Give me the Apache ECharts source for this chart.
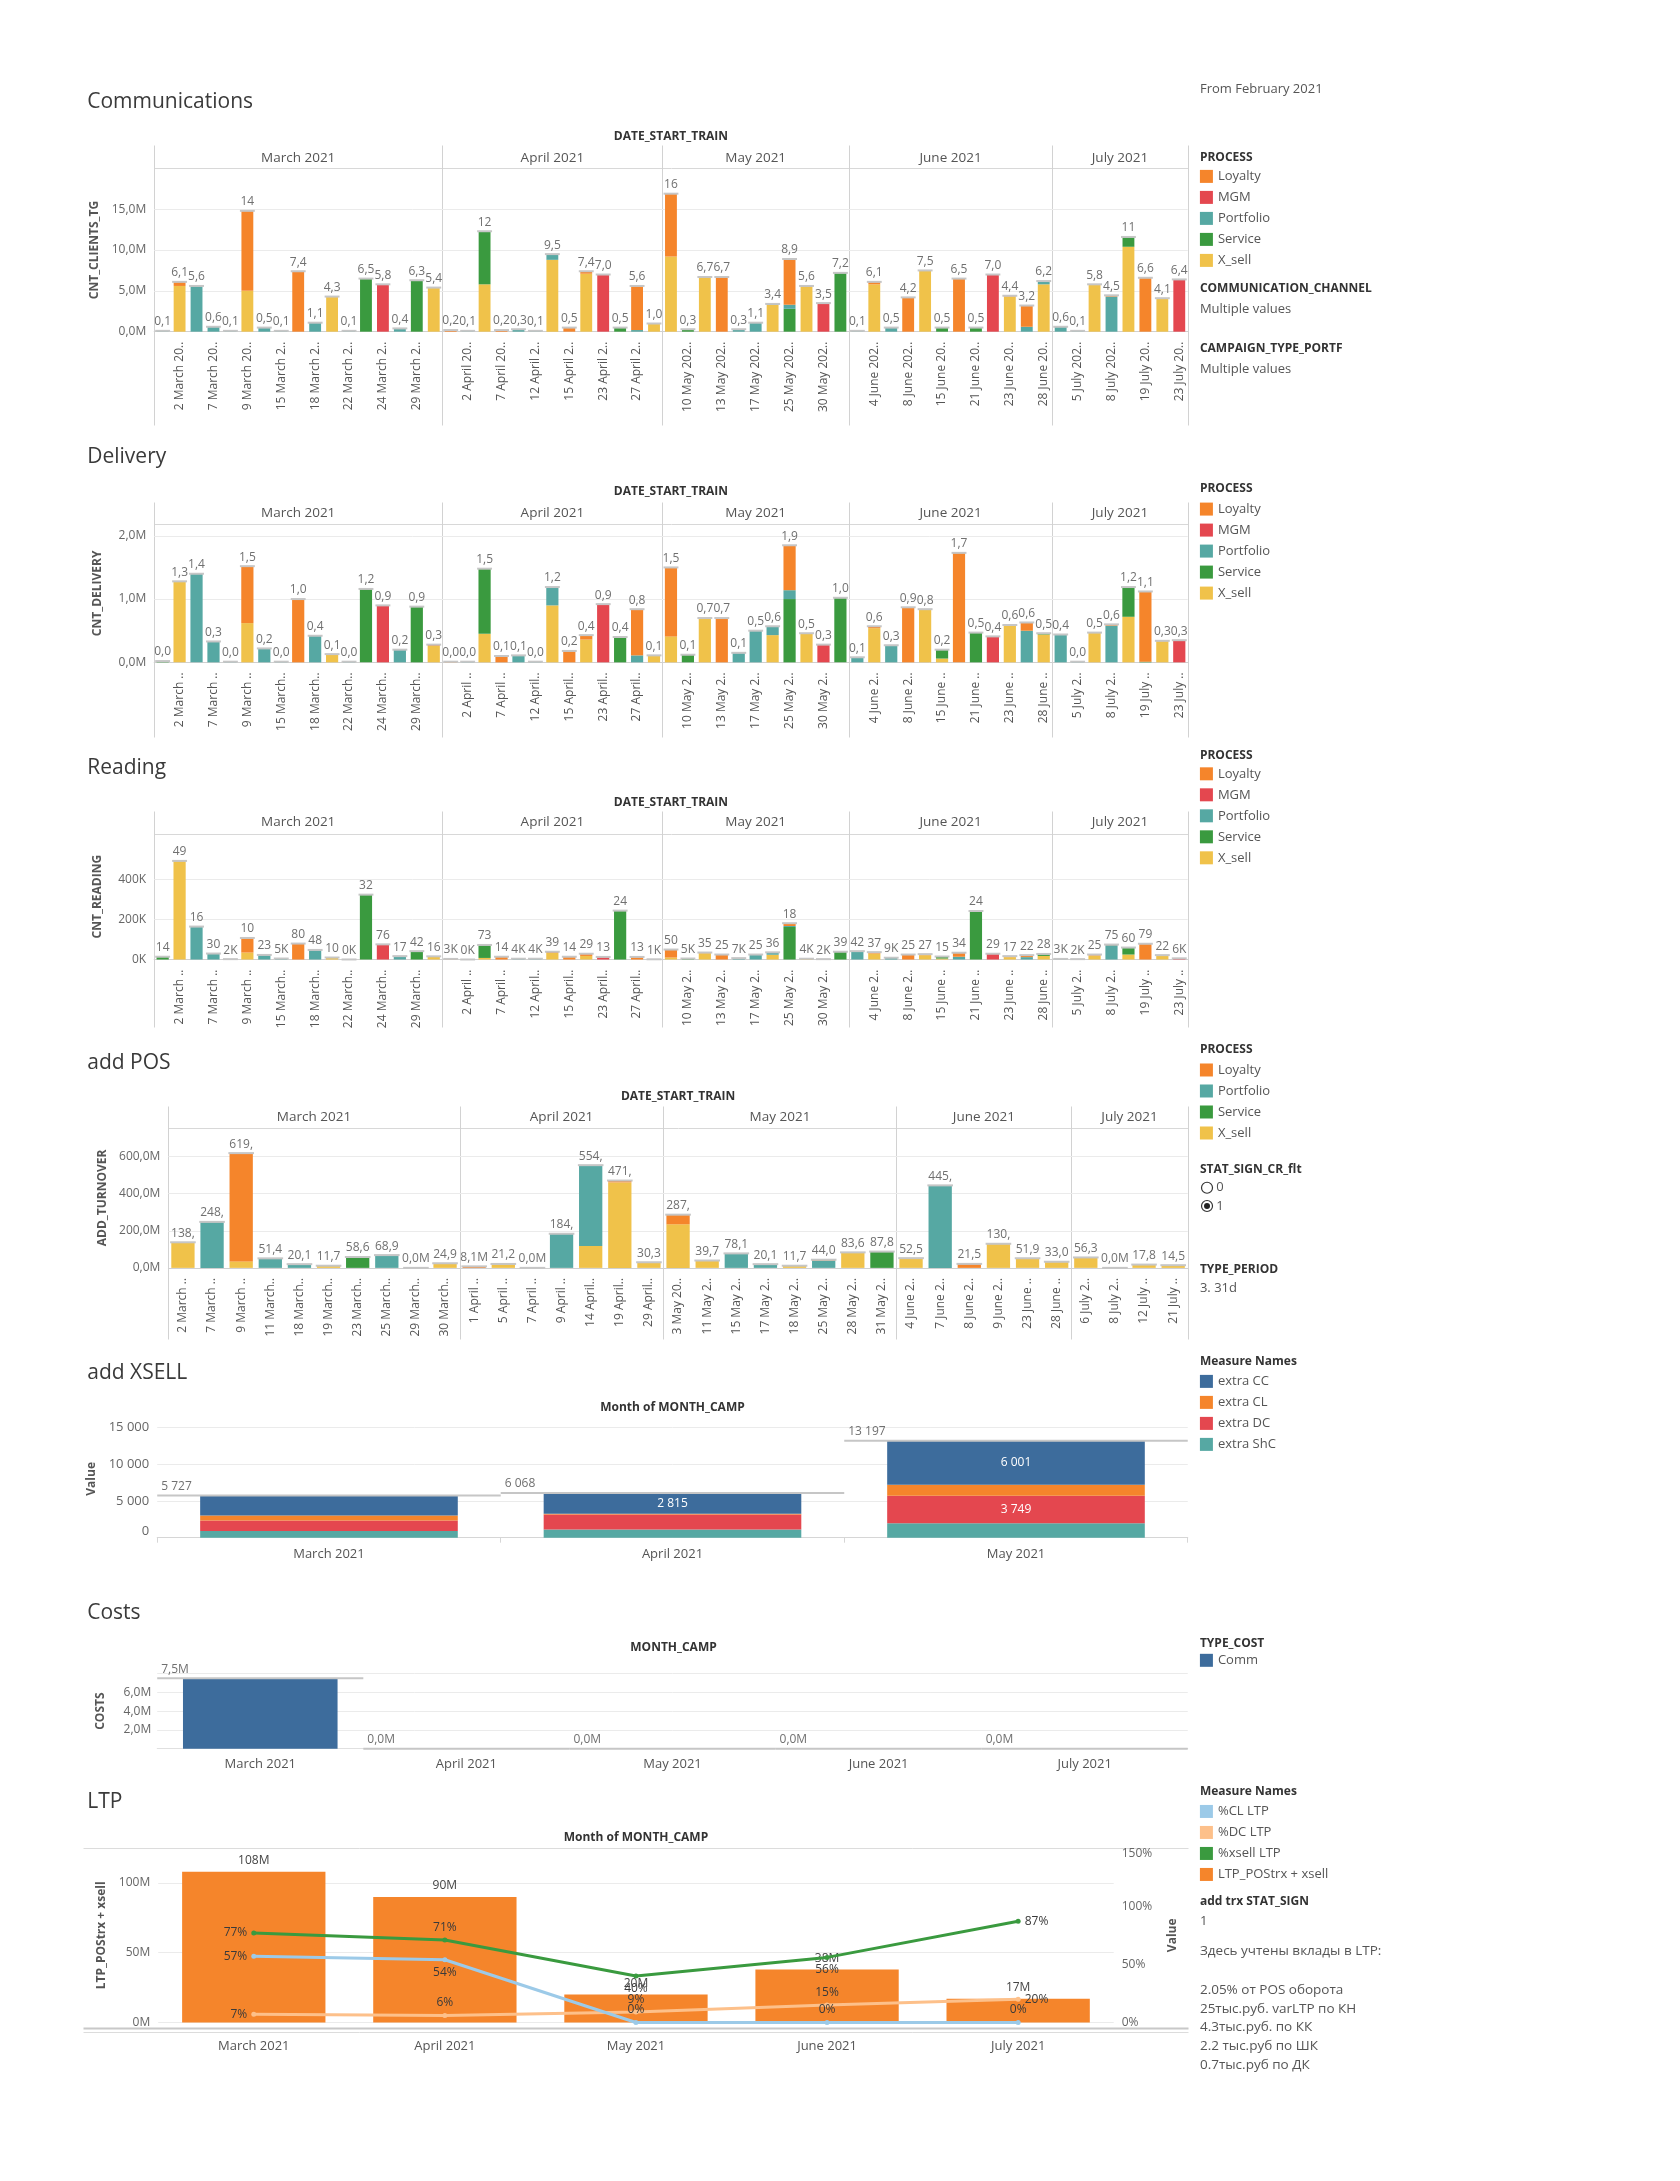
<!DOCTYPE html>
<html><head><meta charset="utf-8">
<script src="https://cdn.jsdelivr.net/npm/echarts@6/dist/echarts.min.js"></script>
<style>html,body{margin:0;padding:0;background:#fff}#c{width:1680px;height:2181px}</style>
</head><body><div id="c"></div>
<script>
// ---------------- DATA ----------------
const PROCESS_LEGEND = ['Loyalty','MGM','Portfolio','Service','X_sell'];
const DATES = [
 '1 March 2021','2 March 2021','4 March 2021','7 March 2021','8 March 2021','9 March 2021','11 March 2021','15 March 2021','16 March 2021','18 March 2021','19 March 2021','22 March 2021','23 March 2021','24 March 2021','25 March 2021','29 March 2021','30 March 2021',
 '1 April 2021','2 April 2021','5 April 2021','7 April 2021','9 April 2021','12 April 2021','14 April 2021','15 April 2021','19 April 2021','23 April 2021','26 April 2021','27 April 2021','29 April 2021',
 '3 May 2021','10 May 2021','11 May 2021','13 May 2021','15 May 2021','17 May 2021','18 May 2021','25 May 2021','28 May 2021','30 May 2021','31 May 2021',
 '1 June 2021','4 June 2021','7 June 2021','8 June 2021','9 June 2021','15 June 2021','18 June 2021','21 June 2021','22 June 2021','23 June 2021','25 June 2021','28 June 2021',
 '2 July 2021','5 July 2021','6 July 2021','8 July 2021','12 July 2021','19 July 2021','21 July 2021','23 July 2021'];

// Communications, CNT_CLIENTS_TG (millions)
const COMM_LOYALTY = [0,0.5,0,0,0,9.8,0,0,7.4,0,0,0,0,0,0,0,0, 0.2,0,0,0.2,0,0,0,0.5,0.3,0,0,5.4,0, 7.7,0,0,6.7,0,0,0,5.6,0.1,0,0, 0,0.3,0,4.2,0,0,6.5,0,0,0.1,2.6,0, 0,0,0,0.15,0,6.6,0.1,0];
const COMM_MGM     = [0,0,0,0,0,0,0,0,0,0,0,0,0,5.8,0,0,0, 0,0,0,0,0,0,0,0,0,7.0,0,0,0, 0,0,0,0,0,0,0,0,0,3.5,0, 0,0,0,0,0,0,0,0,7.0,0,0,0, 0,0,0,0,0,0,0,6.4];
const COMM_PORTF   = [0.1,0,5.6,0.6,0.1,0,0.5,0.1,0,1.1,0,0.1,0,0,0.4,0,0, 0,0.1,0,0,0.3,0.1,0.7,0,0,0,0,0.2,0, 0,0,0,0,0.3,1.1,0.1,0.5,0,0,0, 0.1,0,0.5,0,0,0,0,0,0,0,0.6,0.4, 0.6,0.1,0,4.3,0,0,0,0];
const COMM_SERVICE = [0,0,0,0,0,0,0,0,0,0,0,0,6.5,0,0,6.3,0, 0,0,6.5,0,0,0,0,0,0,0,0.5,0,0, 0,0.3,0,0,0,0,0,2.8,0,0,7.2, 0,0,0,0,0,0.5,0,0.5,0,0,0,0, 0,0,0,0,1.2,0,0,0];
const COMM_XSELL   = [0,5.6,0,0,0,5.0,0,0,0,0,4.3,0,0,0,0,0,5.4, 0,0,5.8,0,0,0,8.8,0,7.1,0,0,0,1.0, 9.2,0,6.7,0,0,0,3.3,0,5.5,0,0, 0,5.8,0,0,7.5,0,0,0,0,4.3,0,5.8, 0,0,5.8,0,10.4,0,4.0,0];

// Delivery, CNT_DELIVERY (millions)
const DEL_LOYALTY = [0,0,0,0,0,0.9,0,0,1.0,0,0,0,0,0,0,0,0.02, 0.01,0,0,0.1,0,0,0,0.18,0.07,0,0,0.73,0.01, 1.09,0,0,0.7,0,0,0,0.71,0,0,0, 0,0.03,0,0.87,0,0,1.73,0,0,0,0.13,0, 0,0,0,0.02,0,1.11,0,0];
const DEL_MGM     = [0,0,0,0,0,0,0,0,0,0,0,0,0,0.9,0,0,0, 0,0,0,0,0,0,0,0,0,0.92,0,0,0, 0,0,0,0,0,0,0,0,0,0.28,0, 0,0,0,0,0,0,0,0,0.41,0,0,0, 0,0,0,0,0,0,0,0.35];
const DEL_PORTF   = [0,0,1.4,0.33,0.01,0,0.22,0.01,0,0.42,0,0.01,0,0,0.2,0,0, 0,0.01,0,0,0.11,0.01,0.29,0,0,0,0,0.11,0, 0,0,0,0,0.15,0.5,0.14,0.14,0,0,0, 0.08,0,0.27,0,0,0,0,0,0,0,0.5,0, 0.44,0.01,0,0.58,0,0,0,0];
const DEL_SERVICE = [0.02,0,0,0,0,0,0,0,0,0,0,0,1.16,0,0,0.88,0, 0,0,1.03,0,0,0,0,0,0,0,0.4,0,0, 0,0.12,0,0,0,0,0,1.0,0,0,1.02, 0,0,0,0,0,0.14,0,0.47,0,0,0,0.02, 0,0,0,0,0.47,0.01,0,0];
const DEL_XSELL   = [0,1.28,0,0,0,0.62,0,0,0,0,0.13,0,0,0,0,0,0.26, 0,0,0.45,0,0,0,0.9,0,0.36,0,0,0,0.1, 0.41,0,0.7,0,0,0,0.43,0,0.46,0,0, 0,0.54,0,0,0.84,0.06,0,0,0,0.59,0,0.44, 0,0,0.47,0,0.72,0,0.34,0];

// Reading, CNT_READING (thousands)
const READ_LOYALTY = [0,0,0,0,0,73,0,0,80,0,2,0,0,0,0,0,0, 3,0,0,14,0,0,6,14,11,0,0,13,0, 40,0,3,25,0,0,0,14,0,0,0, 0,7,0,25,5,0,20,0,0,5,10,0, 0,0,5,3,0,79,2,0];
const READ_MGM     = [0,0,0,0,0,0,0,0,0,0,0,0,0,76,0,0,0, 0,0,0,0,0,0,0,0,0,13,0,0,0, 0,0,0,0,0,0,0,0,0,2,0, 0,0,0,0,0,0,0,0,29,0,0,0, 0,0,0,0,0,0,0,6];
const READ_PORTF   = [0,0,165,30,2,0,23,5,0,48,0,0.4,0,0,17,0,0, 0,0.3,0,0,4,4,0,0,0,0,0,0,0, 0,0,0,0,7,25,12,5,0,0,0, 42,0,9,0,0,0,14,0,0,0,12,0, 3,2,0,72,0,0,0,0];
const READ_SERVICE = [14,0,0,0,0,0,0,0,0,0,0,0,325,0,0,42,0, 0,0,65,0,0,0,0,0,0,0,245,0,0, 0,5,0,0,0,0,0,163,0,0,39, 0,0,0,0,0,10,0,243,0,0,0,10, 0,0,0,0,35,0,0,0];
const READ_XSELL   = [0,494,0,0,0,35,0,0,0,0,8,0,0,0,0,0,16, 0,0,8,0,0,0,33,0,18,0,0,0,1.2, 10,0,32,0,0,0,24,0,4,0,0, 0,30,0,0,22,5,0,0,0,12,0,18, 0,0,20,0,25,0,20,0];

// add POS, ADD_TURNOVER (millions)
const POS_DATES = ['2 March 2021','7 March 2021','9 March 2021','11 March 2021','18 March 2021','19 March 2021','23 March 2021','25 March 2021','29 March 2021','30 March 2021',
 '1 April 2021','5 April 2021','7 April 2021','9 April 2021','14 April 2021','19 April 2021','29 April 2021',
 '3 May 2021','11 May 2021','15 May 2021','17 May 2021','18 May 2021','25 May 2021','28 May 2021','31 May 2021',
 '4 June 2021','7 June 2021','8 June 2021','9 June 2021','23 June 2021','28 June 2021',
 '6 July 2021','8 July 2021','12 July 2021','21 July 2021'];
const POS_LOYALTY = [0,0,584,0,0,0,0,0,0,0, 8.1,0,0.03,0,0,10,0, 52,0,0,0,0,4,0,0, 0,0,21.5,0,0,0, 0,0,0,0];
const POS_PORTF   = [0,248,0,51.4,20.1,0,0,68.9,0,0, 0,0,0,184,436,0,0, 0,0,78.1,20.1,0,40,0,0, 0,445,0,0,0,0, 0,0,0,0];
const POS_SERVICE = [0,0,0,0,0,0,58.6,0,0,0, 0,0,0,0,0,0,0, 0,0,0,0,0,0,0,87.8, 0,0,0,0,0,0, 0,0,0,0];
const POS_XSELL   = [138,0,35,0,0,11.7,0,0,0.03,24.9, 0,21.2,0,0,118,461,30.3, 235,39.7,0,0,11.7,0,83.6,0, 52.5,0,0,130,51.9,33.0, 56.3,0.03,17.8,14.5];

// add XSELL
const XSELL_MONTHS = ['March 2021','April 2021','May 2021'];
const EXTRA_CC  = [2727, 2815, 6001];
const EXTRA_CL  = [650, 103, 1497];
const EXTRA_DC  = [1450, 2050, 3749];
const EXTRA_SHC = [900, 1100, 1950];

// Costs (millions)
const COST_MONTHS = ['March 2021','April 2021','May 2021','June 2021','July 2021'];
const COSTS_COMM = [7.5, 0, 0, 0, 0];

// LTP
const LTP_MONTHS = ['March 2021','April 2021','May 2021','June 2021','July 2021'];
const LTP_POSTRX_XSELL = [108, 90, 20, 38, 17];   // millions
const PCT_CL_LTP    = [57, 54, 0, 0, 0];
const PCT_DC_LTP    = [7, 6, 9, 15, 20];
const PCT_XSELL_LTP = [77, 71, 40, 56, 87];
const LTP_NOTES = ['2.05% от POS оборота','25тыс.руб. varLTP по КН','4.3тыс.руб. по КК','2.2 тыс.руб по ШК','0.7тыс.руб по ДК'];

// ---------------- STYLE / BUILD ----------------
const K = 1.0143;                 // layout scale
const S = v => v*K;
const FONT = '"Open Sans","DejaVu Sans",sans-serif';
const COLORS = {Loyalty:'#F5852B', MGM:'#E4474F', Portfolio:'#56A8A3', Service:'#3A9A3F', X_sell:'#F0C24A'};
const STACK_ORDER = ['X_sell','Service','Portfolio','MGM','Loyalty'];
// label placement (style only)
const LBL_POS_XSELL = ['left','top','bottom','bottom','right'];
const LBL_POS_CL    = ['left','bottom','top','top','top'];
const LBL_POS_DC    = ['left','top','top','top','right'];

const grids=[], xAxes=[], yAxes=[], series=[], graphics=[], legends=[];
const comma = (v,d)=> v.toFixed(d).replace('.',',');
const spaced = v => String(Math.round(v)).replace(/\B(?=(\d{3})+(?!\d))/g,' ');
const TITLE_C='#333', SUB_C='#555';

function gText(x,y,t,o={}){
  graphics.push({type:'text', x:S(x), y:S(y), silent:true, rotation:o.rot||0,
    style:{text:t, fill:o.color||SUB_C, font:(o.weight||'normal')+' '+(o.size||13)+'px '+FONT,
      align:o.align||'left', verticalAlign:o.va||'middle'}});
}
function gLine(x1,y1,x2,y2,o={}){
  graphics.push({type:'line', silent:true, shape:{x1:Math.round(S(x1))+0.5,y1:Math.round(S(y1))+0.5,x2:Math.round(S(x2))+0.5,y2:Math.round(S(y2))+0.5},
    style:{stroke:o.color||'#d6d6d6', lineWidth:o.w||1}});
}
function isMult(v,step){ return Math.abs(v/step - Math.round(v/step)) < 1e-6; }

function refSeries(xi, yi, totals, fmt, mode){
  return {type:'custom', xAxisIndex:xi, yAxisIndex:yi, silent:true, z:6,
    data: totals.map((v,i)=>[i,v]), encode:{x:0,y:1},
    renderItem:(params, api)=>{
      const v = api.value(1);
      const p = api.coord([api.value(0), v]);
      const bw = api.size([1,0])[0];
      const half = mode==='slot' ? bw/2 : bw*0.44;
      return {type:'group', children:[
        {type:'line', shape:{x1:p[0]-half, y1:p[1], x2:p[0]+half, y2:p[1]}, style:{stroke:'#c6c6c6', lineWidth:2}},
        {type:'text', x: mode==='slot' ? p[0]-half+4 : p[0], y:p[1]-3,
          style:{text:fmt(v), align: mode==='slot'?'left':'center', verticalAlign:'bottom', fill:'#707070', font:'12px '+FONT}}
      ]};
    }};
}

function legendBlock(top, names){
  legends.push({orient:'vertical', left:S(1183), top:S(top), itemWidth:13, itemHeight:13, itemGap:8, icon:'rect',
    selectedMode:false, data:names, textStyle:{fontSize:13, color:SUB_C, fontFamily:FONT}, padding:0});
}
function legendTitle(y,t){ gText(1183, y, t, {size:12, weight:'bold', color:TITLE_C}); }

function dateChart(c){
  const gi = grids.length, N = c.dates.length, W = c.right - c.left;
  grids.push({left:S(c.left), top:S(c.top), width:S(W), height:S(c.zero-c.top)});
  const months = c.dates.map(d=>d.split(' ')[1]+' '+d.split(' ')[2]);
  const pos=[]; let k=0;
  months.forEach((m,i)=>{ if(i>0 && m!==months[i-1]) k=0; pos.push(k); k++; });
  xAxes.push({type:'category', gridIndex:gi, data:c.dates, axisTick:{show:false},
    axisLine:{lineStyle:{color:'#d0d0d0'}},
    axisLabel:{rotate:90, fontSize:12, color:SUB_C, fontFamily:FONT, margin:10,
      interval: c.allLabels ? 0 : (i)=>pos[i]%2===1,
      formatter: v => v.length>c.cut ? v.slice(0,c.cut)+'..' : v}});
  const nT = Math.floor(c.max/c.interval+1e-9)+1 + (isMult(c.max,c.interval)?0:1);
  const lineColors = [];
  for(let i=0;i<nT;i++){ lineColors.push(i*c.interval<=c.labelMax ? '#ebebeb' : 'rgba(0,0,0,0)'); }
  yAxes.push({type:'value', gridIndex:gi, min:0, max:c.max, interval:c.interval,
    axisLine:{show:false}, axisTick:{show:false}, splitLine:{lineStyle:{color:lineColors}},
    axisLabel:{fontSize:12, color:'#666', fontFamily:FONT, margin:8,
      formatter: v => (isMult(v,c.interval) && v<=c.labelMax) ? c.yfmt(v) : ''},
    name:c.yName, nameLocation:'middle', nameGap:S(c.nameGap),
    nameTextStyle:{fontSize:12, fontWeight:'bold', color:SUB_C, fontFamily:FONT}});
  const xi = xAxes.length-1, yi = yAxes.length-1;
  STACK_ORDER.forEach(p=>{
    if(!c.values[p]) return;
    series.push({type:'bar', name:p, xAxisIndex:xi, yAxisIndex:yi, stack:'st'+gi, data:c.values[p],
      barWidth:c.barWidth, itemStyle:{color:COLORS[p]}, emphasis:{disabled:true}});
  });
  const totals = c.dates.map((_,i)=>STACK_ORDER.reduce((s,p)=>s+(c.values[p]?c.values[p][i]:0),0));
  series.push(refSeries(xi, yi, totals, c.lbl, 'bar'));
  // header graphics
  gText(86, c.titleY, c.title, {size:21, color:'#3a3a3a'});
  gText((c.left+c.right)/2, c.dstY, 'DATE_START_TRAIN', {size:12, weight:'bold', color:TITLE_C, align:'center'});
  gLine(c.left, c.top, c.right, c.top, {color:'#d8d8d8'});
  const bounds=[0];
  months.forEach((m,i)=>{ if(i>0 && m!==months[i-1]) bounds.push(i); });
  bounds.push(N);
  const bx = b => c.left + W*b/N;
  bounds.forEach(b=>gLine(bx(b), c.sepTop, bx(b), c.sepBottom, {color:'#d2d2d2'}));
  for(let j=0;j<bounds.length-1;j++){
    gText((bx(bounds[j])+bx(bounds[j+1]))/2, c.monthY, months[bounds[j]], {size:13.5, color:SUB_C, align:'center'});
  }
}

const mFmt = v => comma(v,1)+'M';

dateChart({title:'Communications', dates:DATES, left:152, right:1171, top:166, zero:327, max:20, interval:5, labelMax:15,
  titleY:101, dstY:135, monthY:156, sepTop:143, sepBottom:419, cut:10, yName:'CNT_CLIENTS_TG', nameGap:50, barWidth:'70%',
  yfmt:mFmt, lbl: v => { const s = comma(v,1)+'M'; return v>=10 ? s.slice(0,2) : s.slice(0,3); },
  values:{Loyalty:COMM_LOYALTY, MGM:COMM_MGM, Portfolio:COMM_PORTF, Service:COMM_SERVICE, X_sell:COMM_XSELL}});
dateChart({title:'Delivery', dates:DATES, left:152, right:1171, top:517, zero:653, max:2.18, interval:1, labelMax:2,
  titleY:451, dstY:485, monthY:506, sepTop:495, sepBottom:727, cut:8, yName:'CNT_DELIVERY', nameGap:50, barWidth:'72%',
  yfmt:mFmt, lbl: v => (comma(v,1)+'M').slice(0,3),
  values:{Loyalty:DEL_LOYALTY, MGM:DEL_MGM, Portfolio:DEL_PORTF, Service:DEL_SERVICE, X_sell:DEL_XSELL}});
dateChart({title:'Reading', dates:DATES, left:152, right:1171, top:822, zero:946, max:630, interval:200, labelMax:400,
  titleY:757, dstY:791, monthY:811, sepTop:800, sepBottom:1013, cut:8, yName:'CNT_READING', nameGap:50, barWidth:'72%',
  yfmt: v => v+'K', lbl: v => (Math.round(v)+'K').slice(0,2),
  values:{Loyalty:READ_LOYALTY, MGM:READ_MGM, Portfolio:READ_PORTF, Service:READ_SERVICE, X_sell:READ_XSELL}});
dateChart({title:'add POS', dates:POS_DATES, left:166, right:1171, top:1112, zero:1250, max:755, interval:200, labelMax:600,
  titleY:1048, dstY:1081, monthY:1101, sepTop:1090, sepBottom:1320, cut:8, yName:'ADD_TURNOVER', nameGap:58, allLabels:true, barWidth:'80%',
  yfmt:mFmt, lbl: v => (comma(v,1)+'M').slice(0,4),
  values:{Loyalty:POS_LOYALTY, Portfolio:POS_PORTF, Service:POS_SERVICE, X_sell:POS_XSELL}});

// legends / filters for date charts
gText(1183, 88, 'From February 2021', {size:13});
legendTitle(155, 'PROCESS');
legendBlock(167.5, PROCESS_LEGEND);
legendTitle(285, 'COMMUNICATION_CHANNEL');
gText(1183, 305, 'Multiple values', {size:13});
legendTitle(344, 'CAMPAIGN_TYPE_PORTF');
gText(1183, 364, 'Multiple values', {size:13});
legendTitle(482, 'PROCESS');
legendBlock(495.5, PROCESS_LEGEND);
legendTitle(745, 'PROCESS');
legendBlock(756.5, PROCESS_LEGEND);
legendTitle(1035, 'PROCESS');
legendBlock(1048.5, ['Loyalty','Portfolio','Service','X_sell']);
legendTitle(1153, 'STAT_SIGN_CR_flt');
graphics.push({type:'circle', silent:true, shape:{cx:S(1190), cy:S(1171), r:5.5}, style:{fill:'#fff', stroke:'#333', lineWidth:1.2}});
graphics.push({type:'circle', silent:true, shape:{cx:S(1190), cy:S(1189), r:5.5}, style:{fill:'#fff', stroke:'#333', lineWidth:1.2}});
graphics.push({type:'circle', silent:true, shape:{cx:S(1190), cy:S(1189), r:3}, style:{fill:'#222'}});
gText(1199, 1171, '0', {size:13});
gText(1199, 1189, '1', {size:13});
legendTitle(1252, 'TYPE_PERIOD');
gText(1183, 1270, '3. 31d', {size:13});

// ---------- add XSELL ----------
(function(){
  const gi = grids.length;
  grids.push({left:S(155), top:S(1400), width:S(1016), height:S(116)});
  xAxes.push({type:'category', gridIndex:gi, data:XSELL_MONTHS, axisLine:{lineStyle:{color:'#d6d6d6'}},
    axisTick:{show:true, alignWithLabel:false, lineStyle:{color:'#d6d6d6'}},
    axisLabel:{fontSize:13, color:SUB_C, fontFamily:FONT, margin:10}});
  yAxes.push({type:'value', gridIndex:gi, min:0, max:16000, interval:5000, axisLine:{show:false}, axisTick:{show:false},
    splitLine:{lineStyle:{color:['#ebebeb','#ebebeb','#ebebeb','#ebebeb','rgba(0,0,0,0)']}},
    axisLabel:{fontSize:13, color:'#666', fontFamily:FONT, margin:8, verticalAlignMinLabel:'bottom',
      formatter: v => isMult(v,5000) ? spaced(v) : ''},
    name:'Value', nameLocation:'middle', nameGap:S(54), nameTextStyle:{fontSize:12, fontWeight:'bold', color:SUB_C, fontFamily:FONT}});
  const xi=xAxes.length-1, yi=yAxes.length-1;
  const defs = [['extra ShC',EXTRA_SHC,'#56A8A3'],['extra DC',EXTRA_DC,'#E4474F'],['extra CL',EXTRA_CL,'#F5852B'],['extra CC',EXTRA_CC,'#3D6C9C']];
  defs.forEach(d=>series.push({type:'bar', name:d[0], xAxisIndex:xi, yAxisIndex:yi, stack:'xs', data:d[1], barWidth:'75%',
    itemStyle:{color:d[2]}, emphasis:{disabled:true},
    label:{show:true, position:'inside', color:'#fff', fontSize:12, fontFamily:FONT, formatter: p => p.value>=2800 ? spaced(p.value) : ''}}));
  const totals = XSELL_MONTHS.map((_,i)=>EXTRA_CC[i]+EXTRA_CL[i]+EXTRA_DC[i]+EXTRA_SHC[i]);
  series.push(refSeries(xi, yi, totals, spaced, 'slot'));
  gText(86, 1354, 'add XSELL', {size:21, color:'#3a3a3a'});
  gText(663, 1388, 'Month of MONTH_CAMP', {size:12, weight:'bold', color:TITLE_C, align:'center'});
  legendTitle(1342, 'Measure Names');
  legendBlock(1355.5, ['extra CC','extra CL','extra DC','extra ShC']);
})();

// ---------- Costs ----------
(function(){
  const gi = grids.length;
  grids.push({left:S(155), top:S(1650), width:S(1016), height:S(74)});
  xAxes.push({type:'category', gridIndex:gi, data:COST_MONTHS, axisLine:{lineStyle:{color:'#e0e0e0'}}, axisTick:{show:false},
    axisLabel:{fontSize:13, color:SUB_C, fontFamily:FONT, margin:9}});
  yAxes.push({type:'value', gridIndex:gi, min:0, max:8, interval:2, axisLine:{show:false}, axisTick:{show:false},
    splitLine:{lineStyle:{color:'#ebebeb'}},
    axisLabel:{fontSize:12, color:'#666', fontFamily:FONT, margin:6, formatter: v => (v>0 && v<8) ? mFmt(v) : ''},
    name:'COSTS', nameLocation:'middle', nameGap:S(50), nameTextStyle:{fontSize:12, fontWeight:'bold', color:SUB_C, fontFamily:FONT}});
  const xi=xAxes.length-1, yi=yAxes.length-1;
  series.push({type:'bar', name:'Comm', xAxisIndex:xi, yAxisIndex:yi, data:COSTS_COMM, barWidth:'75%', itemStyle:{color:'#3D6C9C'}, emphasis:{disabled:true}});
  series.push(refSeries(xi, yi, COSTS_COMM, mFmt, 'slot'));
  gText(86, 1590, 'Costs', {size:21, color:'#3a3a3a'});
  gText(664, 1624, 'MONTH_CAMP', {size:12, weight:'bold', color:TITLE_C, align:'center'});
  legendTitle(1620, 'TYPE_COST');
  legendBlock(1630.5, ['Comm']);
})();

// ---------- LTP ----------
(function(){
  const gi = grids.length;
  grids.push({left:S(156), top:S(1822), width:S(942), height:S(172)});
  xAxes.push({type:'category', gridIndex:gi, data:LTP_MONTHS, axisLine:{show:false}, axisTick:{show:false},
    axisLabel:{fontSize:13, color:SUB_C, fontFamily:FONT, margin:17}});
  yAxes.push({type:'value', gridIndex:gi, min:0, max:125, interval:50, axisLine:{show:false}, axisTick:{show:false},
    splitLine:{lineStyle:{color:['#ebebeb','#ebebeb','#ebebeb','rgba(0,0,0,0)']}},
    axisLabel:{fontSize:12, color:'#666', fontFamily:FONT, margin:8, formatter: v => isMult(v,50) ? v+'M' : ''},
    name:'LTP_POStrx + xsell', nameLocation:'middle', nameGap:S(50), nameTextStyle:{fontSize:12, fontWeight:'bold', color:SUB_C, fontFamily:FONT}});
  yAxes.push({type:'value', gridIndex:gi, position:'right', min:0, max:150, interval:50, axisLine:{show:false}, axisTick:{show:false},
    splitLine:{show:false},
    axisLabel:{fontSize:12, color:'#666', fontFamily:FONT, margin:8, verticalAlignMaxLabel:'top', formatter: v => v+'%'},
    name:'Value', nameLocation:'middle', nameGap:S(52), nameTextStyle:{fontSize:12, fontWeight:'bold', color:SUB_C, fontFamily:FONT}});
  const xi=xAxes.length-1, yl=yAxes.length-2, yr=yAxes.length-1;
  series.push({type:'bar', name:'LTP_POStrx + xsell', xAxisIndex:xi, yAxisIndex:yl, data:LTP_POSTRX_XSELL, barWidth:'75%',
    itemStyle:{color:'#F5852B'}, emphasis:{disabled:true},
    label:{show:true, position:'top', color:'#444', fontSize:12, fontFamily:FONT, formatter: p => p.value+'M'}});
  const lineDef = [['%DC LTP',PCT_DC_LTP,'#FDC08A',LBL_POS_DC],['%CL LTP',PCT_CL_LTP,'#9CCAE8',LBL_POS_CL],['%xsell LTP',PCT_XSELL_LTP,'#3A9A3F',LBL_POS_XSELL]];
  lineDef.forEach(d=>series.push({type:'line', name:d[0], xAxisIndex:xi, yAxisIndex:yr,
    data:d[1].map((v,i)=>({value:v, label:{position:d[3][i]}})),
    lineStyle:{width:3, color:d[2]}, itemStyle:{color:d[2]}, symbol:'circle', symbolSize:5, emphasis:{disabled:true},
    label:{show:true, color:'#3a3a3a', fontSize:12, fontFamily:FONT, distance:4, formatter: p => p.value+'%'}}));
  gText(86, 1777, 'LTP', {size:21, color:'#3a3a3a'});
  gText(627, 1812, 'Month of MONTH_CAMP', {size:12, weight:'bold', color:TITLE_C, align:'center'});
  gLine(82, 1822, 1171, 1822, {color:'#dcdcdc'});
  gLine(82, 1999.5, 1171, 1999.5, {color:'#c8c8c8', w:2});
  gLine(82, 2003, 1171, 2003, {color:'#dcdcdc'});
  legendTitle(1766, 'Measure Names');
  legendBlock(1779.5, ['%CL LTP','%DC LTP','%xsell LTP','LTP_POStrx + xsell']);
  legendTitle(1875, 'add trx STAT_SIGN');
  gText(1183, 1894, '1', {size:13});
  gText(1183, 1924, 'Здесь учтены вклады в LTP:', {size:13.5});
  LTP_NOTES.forEach((t,i)=>gText(1183, 1962 + i*18.5, t, {size:13.5}));
})();

const chart = echarts.init(document.getElementById('c'), null, {renderer:'canvas', width:1680, height:2181});
chart.setOption({animation:false, textStyle:{fontFamily:FONT}, grid:grids, xAxis:xAxes, yAxis:yAxes, series:series, legend:legends, graphic:graphics});
</script></body></html>
